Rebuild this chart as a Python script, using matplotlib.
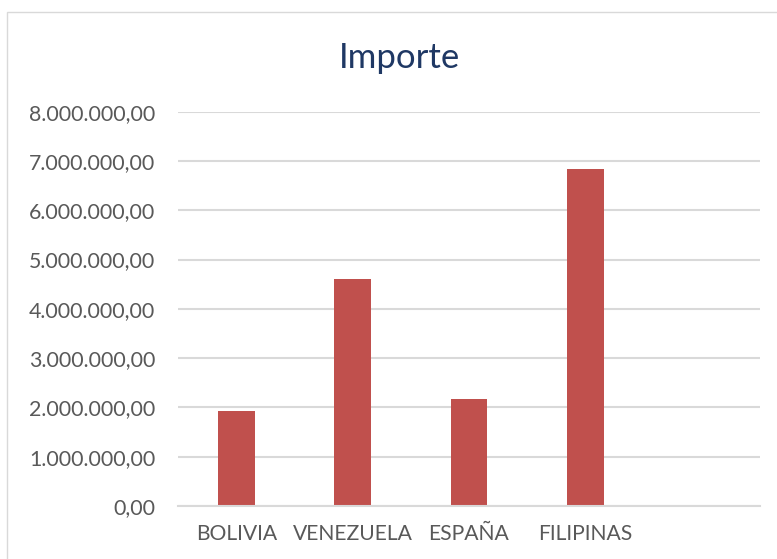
import matplotlib
matplotlib.use("Agg")
import matplotlib.pyplot as plt
from matplotlib.patches import Rectangle
from matplotlib.ticker import FuncFormatter, MultipleLocator

categories = ["BOLIVIA", "VENEZUELA", "ESPAÑA", "FILIPINAS"]
importe = [1930000, 4600000, 2180000, 6840000]
n_slots = 5
title = "Importe"

plt.rcParams['font.family'] = ['Lato', 'DejaVu Sans']

W, H = 777, 559
fig = plt.figure(figsize=(W / 100, H / 100), dpi=100)
fig.patch.set_facecolor('white')

# outer chart frame
fig.patches.append(Rectangle((7 / W, -0.1), 1.2, 1.1 - 12 / H, transform=fig.transFigure,
                             fill=False, edgecolor='#D9D9D9', linewidth=1.0))

ax = fig.add_axes([178 / W, 53 / H, (760 - 178) / W, (506 - 111.6) / H])
x = list(range(len(categories)))
ax.bar(x, importe, width=0.317, color='#C0504D', zorder=3)

ax.set_xlim(-0.5, n_slots - 0.5)
ax.set_ylim(0, 8000000)
ax.yaxis.set_major_locator(MultipleLocator(1000000))

def fmt(v, pos):
    s = f"{v:,.2f}"
    return s.replace(',', 'X').replace('.', ',').replace('X', '.')

ax.yaxis.set_major_formatter(FuncFormatter(fmt))
ax.set_xticks(x)
ax.set_xticklabels(categories)

ax.grid(axis='y', color='#D9D9D9', linewidth=1.5, zorder=0)
for s in ['top', 'right', 'left']:
    ax.spines[s].set_visible(False)
ax.spines['bottom'].set_color('#D9D9D9')
ax.spines['bottom'].set_linewidth(1.5)
ax.spines['bottom'].set_zorder(4)

ax.tick_params(axis='y', length=0, pad=16.5, labelsize=15.4, labelcolor='#595959')
ax.tick_params(axis='x', length=0, pad=13, labelsize=15.2, labelcolor='#595959')

fig.text(400 / W, 1 - 68 / H, title, ha='center', va='baseline', fontsize=25,
         color='#1F3864')

fig.savefig('out.png', dpi=100, facecolor='white')
